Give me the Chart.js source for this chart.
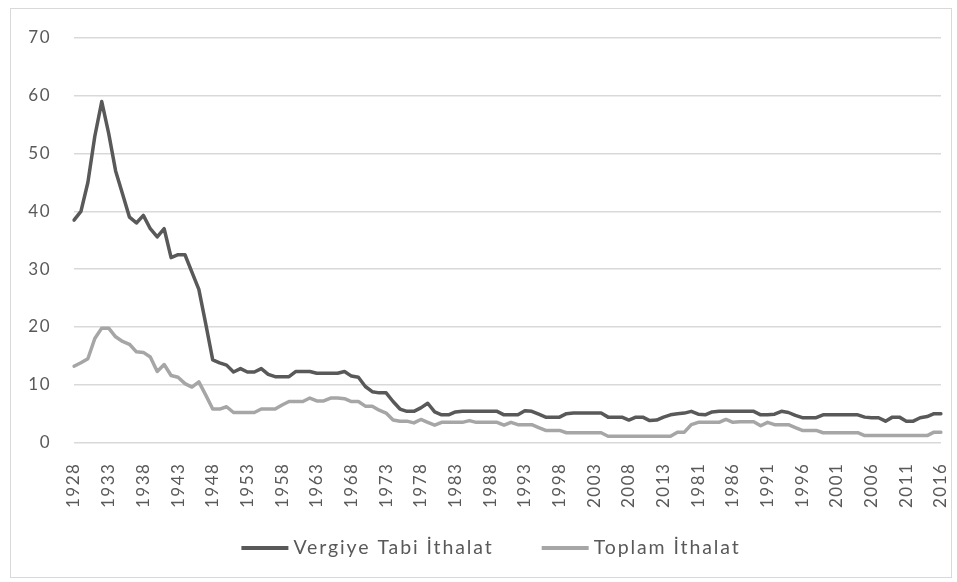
<!DOCTYPE html>
<html>
<head>
<meta charset="utf-8">
<script src="https://cdn.jsdelivr.net/npm/chart.js@4"></script>
<style>
  body { margin: 0; background: #fff; }
  #frame { position: absolute; left: 10px; top: 8px; width: 940px; height: 568px; border: 1px solid #d9d9d9; }
  #wrap { position: absolute; left: 0; top: 0; width: 957px; height: 582px; }
</style>
</head>
<body>
<div id="frame"></div>
<div id="wrap"><canvas id="myChart" width="957" height="582"></canvas></div>
<script>
// x categories: two year runs joined as in the source chart
const years = [
  1928, 1929, 1930, 1931, 1932, 1933, 1934, 1935, 1936, 1937,
  1938, 1939, 1940, 1941, 1942, 1943, 1944, 1945, 1946, 1947,
  1948, 1949, 1950, 1951, 1952, 1953, 1954, 1955, 1956, 1957,
  1958, 1959, 1960, 1961, 1962, 1963, 1964, 1965, 1966, 1967,
  1968, 1969, 1970, 1971, 1972, 1973, 1974, 1975, 1976, 1977,
  1978, 1979, 1980, 1981, 1982, 1983, 1984, 1985, 1986, 1987,
  1988, 1989, 1990, 1991, 1992, 1993, 1994, 1995, 1996, 1997,
  1998, 1999, 2000, 2001, 2002, 2003, 2004, 2005, 2006, 2007,
  2008, 2009, 2010, 2011, 2012, 2013, 2014, 2015,
  1979, 1980, 1981, 1982, 1983, 1984, 1985, 1986, 1987, 1988,
  1989, 1990, 1991, 1992, 1993, 1994, 1995, 1996, 1997, 1998,
  1999, 2000, 2001, 2002, 2003, 2004, 2005, 2006, 2007, 2008,
  2009, 2010, 2011, 2012, 2013, 2014, 2015, 2016
];

const vergiyeTabi = [
  38.5, 40, 45, 53, 59, 53.5, 47, 43, 39, 38,
  39.3, 37, 35.6, 37, 32, 32.5, 32.5, 29.5, 26.5, 20.5,
  14.3, 13.8, 13.4, 12.2, 12.8, 12.2, 12.2, 12.8, 11.8, 11.4,
  11.4, 11.4, 12.3, 12.3, 12.3, 12.0, 12.0, 12.0, 12.0, 12.3,
  11.5, 11.3, 9.7, 8.8, 8.6, 8.6, 7.1, 5.8, 5.4, 5.4,
  6.0, 6.8, 5.3, 4.8, 4.8, 5.3, 5.4, 5.4, 5.4, 5.4,
  5.4, 5.4, 4.8, 4.8, 4.8, 5.5, 5.4, 4.9, 4.4, 4.4,
  4.4, 5.0, 5.1, 5.1, 5.1, 5.1, 5.1, 4.4, 4.4, 4.4,
  3.9, 4.4, 4.4, 3.8, 3.9, 4.4, 4.8, 5.0,
  5.1, 5.4, 4.9, 4.8, 5.3, 5.4, 5.4, 5.4, 5.4, 5.4,
  5.4, 4.8, 4.8, 4.9, 5.4, 5.2, 4.7, 4.3, 4.3, 4.3,
  4.8, 4.8, 4.8, 4.8, 4.8, 4.8, 4.4, 4.3, 4.3, 3.7,
  4.4, 4.4, 3.7, 3.7, 4.3, 4.5, 5.0, 5.0
];

const toplam = [
  13.2, 13.8, 14.5, 18, 19.8, 19.8, 18.3, 17.5, 17, 15.7,
  15.6, 14.8, 12.3, 13.5, 11.6, 11.3, 10.2, 9.6, 10.5, 8.2,
  5.8, 5.8, 6.2, 5.2, 5.2, 5.2, 5.2, 5.8, 5.8, 5.8,
  6.5, 7.1, 7.1, 7.1, 7.7, 7.2, 7.2, 7.7, 7.7, 7.6,
  7.1, 7.1, 6.3, 6.3, 5.6, 5.1, 3.9, 3.7, 3.7, 3.4,
  4.0, 3.5, 3.0, 3.5, 3.5, 3.5, 3.5, 3.8, 3.5, 3.5,
  3.5, 3.5, 3.0, 3.5, 3.1, 3.1, 3.1, 2.6, 2.1, 2.1,
  2.1, 1.7, 1.7, 1.7, 1.7, 1.7, 1.7, 1.1, 1.1, 1.1,
  1.1, 1.1, 1.1, 1.1, 1.1, 1.1, 1.1, 1.8,
  1.8, 3.1, 3.5, 3.5, 3.5, 3.5, 4.0, 3.5, 3.6, 3.6,
  3.6, 2.9, 3.5, 3.1, 3.1, 3.1, 2.6, 2.1, 2.1, 2.1,
  1.7, 1.7, 1.7, 1.7, 1.7, 1.7, 1.2, 1.2, 1.2, 1.2,
  1.2, 1.2, 1.2, 1.2, 1.2, 1.2, 1.8, 1.8
];

const yTicks = [0, 10, 20, 30, 40, 50, 60, 70];

// the source text is set quite loosely, so widen the canvas letter spacing
const spacing = {
    id: 'spacing',
    beforeLayout(chart) { chart.ctx.letterSpacing = '1.5px'; },
    beforeDraw(chart) { chart.ctx.letterSpacing = '1.5px'; }
};

// legend drawn by hand so the gaps can match the original
const bottomLegend = {
    id: 'bottomLegend',
    afterDraw(chart) {
        const ctx = chart.ctx;
        const sets = chart.data.datasets;
        const swatch = 47, gap = 5, between = 48, cy = 548;
        ctx.save();
        ctx.letterSpacing = '1.9px';
        ctx.font = '19.5px Lato, "Liberation Sans", sans-serif';
        ctx.textBaseline = 'middle';
        const widths = sets.map(ds => ctx.measureText(ds.label).width);
        let total = between * (sets.length - 1);
        widths.forEach(w => { total += swatch + gap + w; });
        let x = 491 - total / 2;
        sets.forEach((ds, i) => {
            ctx.fillStyle = ds.borderColor;
            ctx.fillRect(x, cy - 2, swatch, 4);
            x += swatch + gap;
            ctx.fillStyle = '#595959';
            ctx.fillText(ds.label, x, cy);
            x += widths[i] + between;
        });
        ctx.restore();
    }
};

function initChart() {
    const ctx = document.getElementById('myChart').getContext('2d');
    Chart.defaults.font.family = 'Lato, "Liberation Sans", sans-serif';
    Chart.defaults.color = '#595959';
    new Chart(ctx, {
        type: 'line',
        data: {
            labels: years.map(String),
            datasets: [{
                label: 'Vergiye Tabi İthalat',
                data: vergiyeTabi,
                borderColor: '#595959',
                backgroundColor: '#595959',
                borderWidth: 3.5
            }, {
                label: 'Toplam İthalat',
                data: toplam,
                borderColor: '#a6a6a6',
                backgroundColor: '#a6a6a6',
                borderWidth: 3.5
            }]
        },
        plugins: [spacing, bottomLegend],
        options: {
            responsive: false,
            animation: false,
            layout: { padding: { left: 0, right: 16, top: 38, bottom: 62 } },
            elements: {
                point: { radius: 0 },
                line: { tension: 0, borderJoinStyle: 'round', borderCapStyle: 'round' }
            },
            scales: {
                x: {
                    offset: false,
                    grid: { display: false },
                    border: { display: false },
                    afterFit: function(scale) { scale.paddingRight = 0; },
                    ticks: {
                        autoSkip: false,
                        maxRotation: 90,
                        minRotation: 90,
                        padding: 12,
                        font: { size: 17 },
                        callback: function(value, index) {
                            return index % 5 === 0 ? this.getLabelForValue(value) : null;
                        }
                    }
                },
                y: {
                    min: 0,
                    max: 70,
                    afterBuildTicks: function(scale) {
                        scale.ticks = yTicks.map(v => ({ value: v }));
                    },
                    afterFit: function(scale) { scale.width = 74; },
                    grid: { color: '#d9d9d9', lineWidth: 1.5, drawTicks: false },
                    border: { display: false },
                    ticks: { padding: 23, font: { size: 17 } }
                }
            },
            plugins: {
                legend: { display: false },
                tooltip: { enabled: false }
            }
        }
    });
}

document.addEventListener('DOMContentLoaded', initChart);
</script>
</body>
</html>
